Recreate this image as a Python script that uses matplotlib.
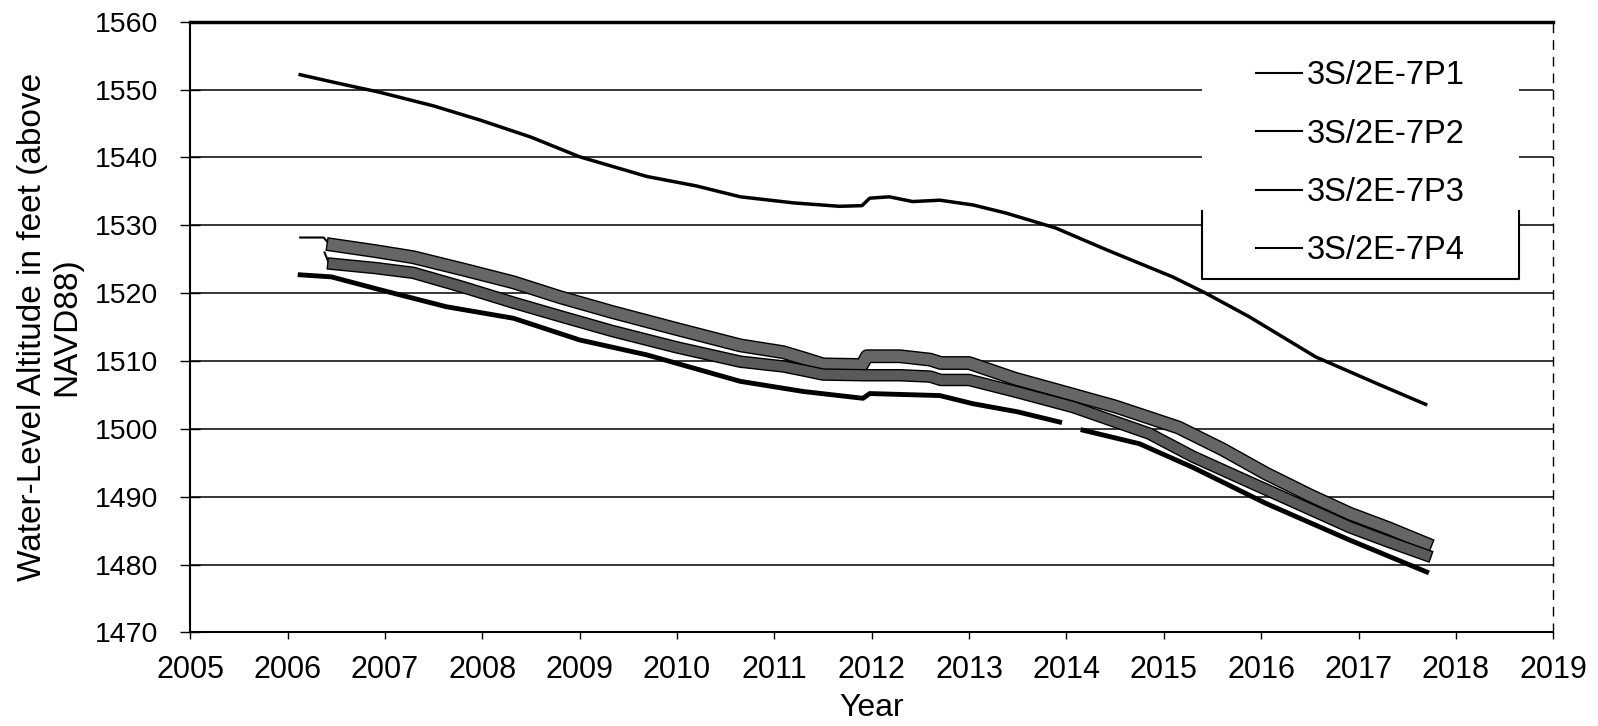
import matplotlib
matplotlib.use("Agg")
import numpy as np
import matplotlib.pyplot as plt
import matplotlib.patheffects as pe
from matplotlib.lines import Line2D
from matplotlib.patches import Rectangle

plt.rcParams["font.family"] = ["Liberation Sans", "DejaVu Sans"]

labels = ["3S/2E-7P1", "3S/2E-7P2", "3S/2E-7P3", "3S/2E-7P4"]

p1_year = [2006.13, 2006.5, 2006.95, 2007.5, 2007.98, 2008.5, 2009.0, 2009.69, 2010.2,
           2010.65, 2011.2, 2011.67, 2011.9, 2011.98, 2012.18, 2012.42, 2012.7, 2013.04,
           2013.38, 2013.89, 2014.41, 2015.09, 2015.43, 2015.88, 2016.56, 2017.2, 2017.69]
p1_wl = [1552.2, 1551.0, 1549.6, 1547.6, 1545.5, 1543.0, 1540.1, 1537.2, 1535.8,
         1534.2, 1533.3, 1532.8, 1532.9, 1534.0, 1534.2, 1533.5, 1533.7, 1533.0,
         1531.8, 1529.6, 1526.4, 1522.4, 1520.0, 1516.5, 1510.6, 1506.6, 1503.6]

p2_early_year = [2006.13, 2006.37, 2006.42, 2006.47]
p2_early_wl = [1528.2, 1528.2, 1527.4, 1527.1]
p2_year = [2006.47, 2006.9, 2007.29, 2007.8, 2008.32, 2008.8, 2009.34, 2010.0, 2010.65,
           2011.09, 2011.3, 2011.5, 2011.9, 2011.95, 2012.29, 2012.6, 2012.71, 2013.0,
           2013.47, 2014.0, 2014.5, 2015.15, 2015.6, 2016.05, 2016.5, 2016.91, 2017.3, 2017.69]
p2_wl = [1527.1, 1526.2, 1525.3, 1523.5, 1521.6, 1519.4, 1517.2, 1514.7, 1512.3,
         1511.3, 1510.4, 1509.5, 1509.4, 1510.7, 1510.7, 1510.2, 1509.7, 1509.7,
         1507.4, 1505.3, 1503.3, 1500.2, 1497.0, 1493.4, 1490.2, 1487.5, 1485.4, 1483.1]

p3_early_year = [2006.38, 2006.42, 2006.47]
p3_early_wl = [1526.0, 1524.6, 1524.3]
p3_year = [2006.47, 2006.9, 2007.29, 2007.8, 2008.32, 2008.8, 2009.34, 2010.0, 2010.65,
           2011.09, 2011.3, 2011.5, 2011.93, 2012.29, 2012.6, 2012.71, 2013.0, 2013.47,
           2014.07, 2014.85, 2015.3, 2015.84, 2016.4, 2016.91, 2017.3, 2017.69]
p3_wl = [1524.3, 1523.7, 1523.0, 1520.9, 1518.6, 1516.6, 1514.4, 1512.0, 1509.9,
         1509.2, 1508.6, 1508.0, 1507.9, 1507.9, 1507.7, 1507.2, 1507.2, 1505.5,
         1503.2, 1499.3, 1495.9, 1492.4, 1488.8, 1485.5, 1483.4, 1481.4]

p4_year = [2006.13, 2006.45, 2006.95, 2007.63, 2008.32, 2009.0, 2009.69, 2010.65, 2011.3,
           2011.91, 2011.98, 2012.7, 2013.04, 2013.5, 2013.93, np.nan, 2014.17, 2014.75,
           2015.3, 2016.05, 2016.91, 2017.7]
p4_wl = [1522.7, 1522.4, 1520.5, 1518.0, 1516.3, 1513.1, 1510.9, 1507.0, 1505.5,
         1504.5, 1505.2, 1504.9, 1503.7, 1502.5, 1501.0, np.nan, 1499.8, 1497.8,
         1494.3, 1489.0, 1483.6, 1478.9]

fig = plt.figure(figsize=(15.98, 7.26), dpi=100)
ax = fig.add_axes([0.119, 0.129, 0.853, 0.841])

ax.set_xlim(2005, 2019)
ax.set_ylim(1470, 1560)
ax.set_xticks(range(2005, 2020))
ax.set_yticks(range(1470, 1561, 10))
ax.yaxis.grid(True, color="black", linewidth=1.1)
ax.set_axisbelow(True)

ax.plot(p1_year, p1_wl, color="black", linewidth=2.5, zorder=3)
ax.plot(p2_early_year, p2_early_wl, color="black", linewidth=1.5, zorder=3)
ax.plot(p2_year, p2_wl, color="#666666", linewidth=8, zorder=3,
        path_effects=[pe.Stroke(linewidth=10, foreground="black"), pe.Normal()])
ax.plot(p3_early_year, p3_early_wl, color="black", linewidth=1.5, zorder=3)
ax.plot(p3_year, p3_wl, color="#5a5a5a", linewidth=7, zorder=3,
        path_effects=[pe.Stroke(linewidth=9, foreground="black"), pe.Normal()])
ax.plot(p4_year, p4_wl, color="black", linewidth=3.5, zorder=3)

# legend area: white box that hides the gridlines, only its lower edge shows
ax.add_patch(Rectangle((0.742, 0.579), 0.233, 0.412, transform=ax.transAxes,
                       facecolor="white", edgecolor="none", zorder=2))
ax.add_line(Line2D([0.742, 0.742, 0.975, 0.975], [0.69, 0.579, 0.579, 0.69],
                   transform=ax.transAxes, color="black", linewidth=1.5, zorder=4))
handles = [Line2D([], [], color="black", linewidth=1.5) for _ in labels]
leg = ax.legend(handles, labels, loc="upper left", bbox_to_anchor=(0.782, 0.937),
                frameon=False, fontsize=23.5, handlelength=1.4, handletextpad=0.15,
                labelspacing=0.84, borderpad=0, borderaxespad=0)
leg.set_zorder(5)

ax.tick_params(axis="x", direction="out", length=5, width=1, pad=11, labelsize=22)
ax.tick_params(axis="y", direction="inout", length=14, width=1, pad=16, labelsize=20.5)

for side in ["left", "bottom"]:
    ax.spines[side].set_linewidth(1.5)
ax.spines["top"].set_linewidth(2.5)
ax.spines["right"].set_linewidth(1)
ax.spines["right"].set_linestyle((0, (6, 6)))

ax.set_xlabel("Year", fontsize=23, labelpad=6)
ax.set_ylabel("Water-Level Altitude in feet (above\nNAVD88)", fontsize=24, labelpad=9,
              linespacing=1.15)

fig.savefig("out.png", dpi=100)
